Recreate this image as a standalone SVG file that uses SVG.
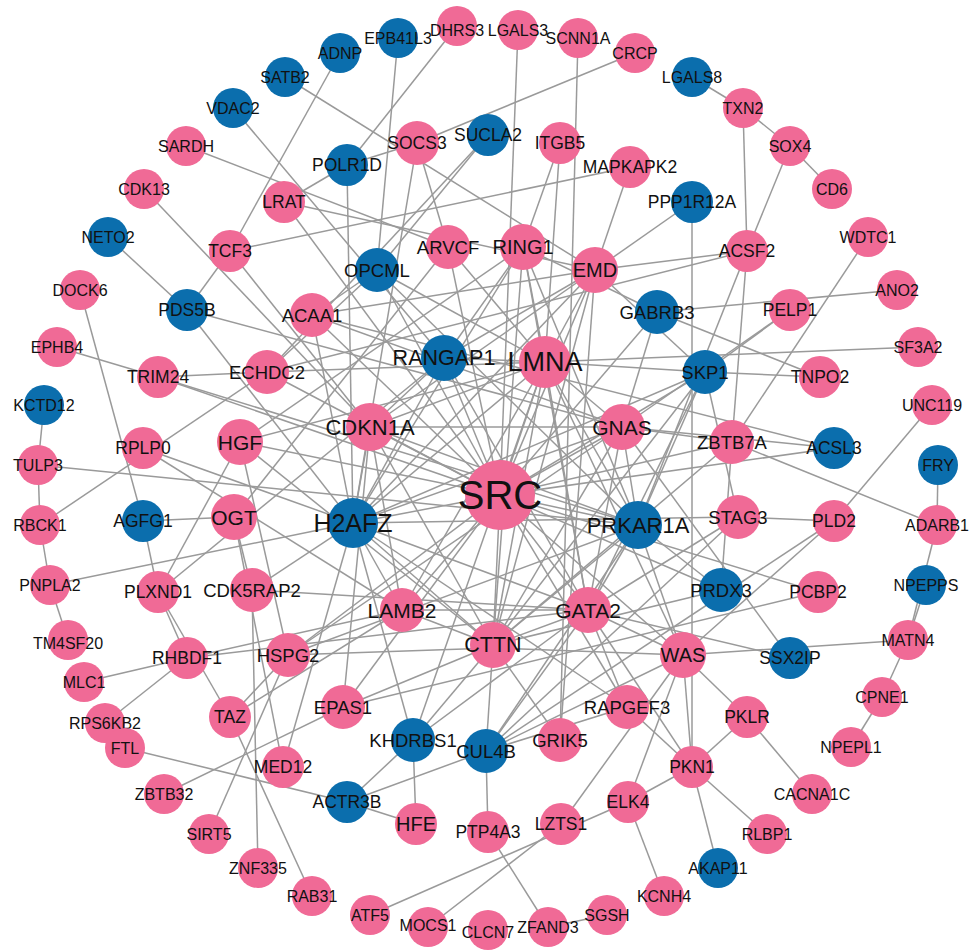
<svg xmlns="http://www.w3.org/2000/svg" width="971" height="950" viewBox="0 0 971 950">
<style>
.e line{stroke:#9a9a9a;stroke-width:1.5}
.p{fill:#F06A96}
.b{fill:#0B6EAD}
text{font-family:"Liberation Sans",Arial,sans-serif;fill:#111;text-anchor:middle;dominant-baseline:central}
.o{font-size:16px}
.m{font-size:17.5px}
.i{font-size:18.5px}
</style>
<rect width="971" height="950" fill="#fff"/>
<g id="connectors" class="e">
<line x1="285" y1="77" x2="595" y2="270"/>
<line x1="340" y1="53" x2="230" y2="251"/>
<line x1="398" y1="38" x2="377" y2="270"/>
<line x1="457" y1="26" x2="347" y2="165"/>
<line x1="518" y1="30" x2="500" y2="495"/>
<line x1="578" y1="38" x2="560" y2="740"/>
<line x1="635" y1="53" x2="417" y2="143"/>
<line x1="692" y1="77" x2="743" y2="108"/>
<line x1="743" y1="108" x2="790" y2="146"/>
<line x1="790" y1="146" x2="832" y2="189"/>
<line x1="743" y1="108" x2="747" y2="251"/>
<line x1="790" y1="146" x2="747" y2="251"/>
<line x1="868" y1="237" x2="732" y2="442"/>
<line x1="897" y1="290" x2="657" y2="312"/>
<line x1="918" y1="347" x2="545" y2="362"/>
<line x1="932" y1="405" x2="834" y2="521"/>
<line x1="938" y1="465" x2="937" y2="525"/>
<line x1="937" y1="525" x2="732" y2="442"/>
<line x1="937" y1="525" x2="908" y2="640"/>
<line x1="926" y1="585" x2="908" y2="640"/>
<line x1="908" y1="640" x2="683" y2="655"/>
<line x1="882" y1="697" x2="908" y2="640"/>
<line x1="851" y1="747" x2="882" y2="697"/>
<line x1="812" y1="794" x2="747" y2="717"/>
<line x1="767" y1="834" x2="692" y2="767"/>
<line x1="718" y1="868" x2="692" y2="767"/>
<line x1="664" y1="896" x2="628" y2="802"/>
<line x1="607" y1="915" x2="548" y2="927"/>
<line x1="548" y1="927" x2="488" y2="832"/>
<line x1="428" y1="927" x2="561" y2="824"/>
<line x1="370" y1="915" x2="628" y2="802"/>
<line x1="312" y1="896" x2="230" y2="717"/>
<line x1="258" y1="868" x2="252" y2="590"/>
<line x1="209" y1="834" x2="288" y2="655"/>
<line x1="164" y1="794" x2="343" y2="707"/>
<line x1="125" y1="748" x2="347" y2="802"/>
<line x1="105" y1="723" x2="187" y2="658"/>
<line x1="84" y1="682" x2="187" y2="658"/>
<line x1="68" y1="640" x2="50" y2="585"/>
<line x1="50" y1="585" x2="40" y2="525"/>
<line x1="40" y1="525" x2="38" y2="465"/>
<line x1="38" y1="465" x2="44" y2="405"/>
<line x1="50" y1="585" x2="353" y2="523"/>
<line x1="40" y1="525" x2="267" y2="372"/>
<line x1="38" y1="465" x2="638" y2="525"/>
<line x1="57" y1="347" x2="158" y2="377"/>
<line x1="80" y1="290" x2="143" y2="521"/>
<line x1="108" y1="237" x2="187" y2="310"/>
<line x1="144" y1="189" x2="370" y2="427"/>
<line x1="186" y1="146" x2="448" y2="247"/>
<line x1="233" y1="108" x2="444" y2="358"/>
<line x1="347" y1="165" x2="417" y2="143"/>
<line x1="347" y1="165" x2="284" y2="202"/>
<line x1="347" y1="165" x2="353" y2="523"/>
<line x1="417" y1="143" x2="448" y2="247"/>
<line x1="417" y1="143" x2="353" y2="523"/>
<line x1="488" y1="135" x2="377" y2="270"/>
<line x1="488" y1="135" x2="267" y2="372"/>
<line x1="560" y1="143" x2="523" y2="247"/>
<line x1="560" y1="143" x2="545" y2="362"/>
<line x1="630" y1="167" x2="230" y2="251"/>
<line x1="630" y1="167" x2="595" y2="270"/>
<line x1="692" y1="202" x2="595" y2="270"/>
<line x1="692" y1="202" x2="692" y2="767"/>
<line x1="747" y1="251" x2="595" y2="270"/>
<line x1="747" y1="251" x2="267" y2="372"/>
<line x1="747" y1="251" x2="732" y2="442"/>
<line x1="747" y1="251" x2="638" y2="525"/>
<line x1="790" y1="310" x2="705" y2="372"/>
<line x1="790" y1="310" x2="622" y2="427"/>
<line x1="820" y1="377" x2="705" y2="372"/>
<line x1="820" y1="377" x2="657" y2="312"/>
<line x1="834" y1="448" x2="500" y2="495"/>
<line x1="834" y1="448" x2="312" y2="315"/>
<line x1="834" y1="448" x2="622" y2="427"/>
<line x1="834" y1="521" x2="738" y2="517"/>
<line x1="834" y1="521" x2="683" y2="655"/>
<line x1="834" y1="521" x2="486" y2="751"/>
<line x1="818" y1="592" x2="500" y2="495"/>
<line x1="818" y1="592" x2="343" y2="707"/>
<line x1="790" y1="658" x2="622" y2="427"/>
<line x1="790" y1="658" x2="588" y2="610"/>
<line x1="747" y1="717" x2="683" y2="655"/>
<line x1="747" y1="717" x2="692" y2="767"/>
<line x1="692" y1="767" x2="628" y2="802"/>
<line x1="692" y1="767" x2="683" y2="655"/>
<line x1="692" y1="767" x2="627" y2="707"/>
<line x1="692" y1="767" x2="588" y2="610"/>
<line x1="628" y1="802" x2="683" y2="655"/>
<line x1="561" y1="824" x2="683" y2="655"/>
<line x1="488" y1="832" x2="486" y2="751"/>
<line x1="416" y1="824" x2="347" y2="802"/>
<line x1="416" y1="824" x2="413" y2="740"/>
<line x1="347" y1="802" x2="413" y2="740"/>
<line x1="347" y1="802" x2="486" y2="751"/>
<line x1="283" y1="767" x2="353" y2="523"/>
<line x1="283" y1="767" x2="234" y2="517"/>
<line x1="230" y1="717" x2="288" y2="655"/>
<line x1="230" y1="717" x2="158" y2="592"/>
<line x1="230" y1="717" x2="402" y2="610"/>
<line x1="187" y1="658" x2="402" y2="610"/>
<line x1="187" y1="658" x2="588" y2="610"/>
<line x1="187" y1="658" x2="158" y2="592"/>
<line x1="158" y1="592" x2="240" y2="442"/>
<line x1="158" y1="592" x2="444" y2="358"/>
<line x1="158" y1="592" x2="143" y2="521"/>
<line x1="143" y1="521" x2="234" y2="517"/>
<line x1="143" y1="448" x2="353" y2="523"/>
<line x1="143" y1="448" x2="402" y2="610"/>
<line x1="158" y1="377" x2="267" y2="372"/>
<line x1="158" y1="377" x2="500" y2="495"/>
<line x1="158" y1="377" x2="638" y2="525"/>
<line x1="187" y1="310" x2="230" y2="251"/>
<line x1="187" y1="310" x2="622" y2="427"/>
<line x1="187" y1="310" x2="353" y2="523"/>
<line x1="230" y1="251" x2="370" y2="427"/>
<line x1="284" y1="202" x2="500" y2="495"/>
<line x1="284" y1="202" x2="595" y2="270"/>
<line x1="377" y1="270" x2="267" y2="372"/>
<line x1="377" y1="270" x2="312" y2="315"/>
<line x1="377" y1="270" x2="500" y2="495"/>
<line x1="377" y1="270" x2="545" y2="362"/>
<line x1="377" y1="270" x2="638" y2="525"/>
<line x1="448" y1="247" x2="500" y2="495"/>
<line x1="448" y1="247" x2="234" y2="517"/>
<line x1="448" y1="247" x2="545" y2="362"/>
<line x1="523" y1="247" x2="657" y2="312"/>
<line x1="523" y1="247" x2="545" y2="362"/>
<line x1="523" y1="247" x2="493" y2="645"/>
<line x1="523" y1="247" x2="353" y2="523"/>
<line x1="523" y1="247" x2="444" y2="358"/>
<line x1="523" y1="247" x2="240" y2="442"/>
<line x1="523" y1="247" x2="588" y2="610"/>
<line x1="523" y1="247" x2="638" y2="525"/>
<line x1="595" y1="270" x2="545" y2="362"/>
<line x1="595" y1="270" x2="500" y2="495"/>
<line x1="595" y1="270" x2="312" y2="315"/>
<line x1="595" y1="270" x2="370" y2="427"/>
<line x1="595" y1="270" x2="353" y2="523"/>
<line x1="595" y1="270" x2="493" y2="645"/>
<line x1="595" y1="270" x2="444" y2="358"/>
<line x1="595" y1="270" x2="705" y2="372"/>
<line x1="595" y1="270" x2="560" y2="740"/>
<line x1="657" y1="312" x2="622" y2="427"/>
<line x1="657" y1="312" x2="500" y2="495"/>
<line x1="705" y1="372" x2="545" y2="362"/>
<line x1="705" y1="372" x2="500" y2="495"/>
<line x1="705" y1="372" x2="638" y2="525"/>
<line x1="705" y1="372" x2="493" y2="645"/>
<line x1="705" y1="372" x2="588" y2="610"/>
<line x1="705" y1="372" x2="353" y2="523"/>
<line x1="732" y1="442" x2="721" y2="590"/>
<line x1="732" y1="442" x2="622" y2="427"/>
<line x1="732" y1="442" x2="500" y2="495"/>
<line x1="732" y1="442" x2="493" y2="645"/>
<line x1="738" y1="517" x2="353" y2="523"/>
<line x1="738" y1="517" x2="588" y2="610"/>
<line x1="738" y1="517" x2="705" y2="372"/>
<line x1="738" y1="517" x2="486" y2="751"/>
<line x1="721" y1="590" x2="638" y2="525"/>
<line x1="721" y1="590" x2="500" y2="495"/>
<line x1="721" y1="590" x2="493" y2="645"/>
<line x1="683" y1="655" x2="493" y2="648"/>
<line x1="683" y1="655" x2="588" y2="610"/>
<line x1="683" y1="655" x2="638" y2="525"/>
<line x1="683" y1="655" x2="500" y2="495"/>
<line x1="683" y1="655" x2="486" y2="751"/>
<line x1="683" y1="655" x2="545" y2="362"/>
<line x1="627" y1="707" x2="588" y2="610"/>
<line x1="627" y1="707" x2="500" y2="495"/>
<line x1="627" y1="707" x2="353" y2="523"/>
<line x1="560" y1="740" x2="493" y2="645"/>
<line x1="486" y1="751" x2="493" y2="645"/>
<line x1="486" y1="751" x2="588" y2="610"/>
<line x1="486" y1="751" x2="627" y2="707"/>
<line x1="486" y1="751" x2="638" y2="525"/>
<line x1="413" y1="740" x2="493" y2="645"/>
<line x1="413" y1="740" x2="588" y2="610"/>
<line x1="413" y1="740" x2="353" y2="523"/>
<line x1="413" y1="740" x2="545" y2="362"/>
<line x1="343" y1="707" x2="500" y2="495"/>
<line x1="343" y1="707" x2="493" y2="645"/>
<line x1="343" y1="707" x2="370" y2="427"/>
<line x1="288" y1="655" x2="493" y2="648"/>
<line x1="288" y1="655" x2="500" y2="495"/>
<line x1="288" y1="655" x2="638" y2="525"/>
<line x1="288" y1="655" x2="622" y2="427"/>
<line x1="288" y1="655" x2="240" y2="442"/>
<line x1="252" y1="590" x2="353" y2="523"/>
<line x1="252" y1="590" x2="588" y2="610"/>
<line x1="252" y1="590" x2="234" y2="517"/>
<line x1="240" y1="442" x2="500" y2="495"/>
<line x1="240" y1="442" x2="545" y2="362"/>
<line x1="240" y1="442" x2="493" y2="645"/>
<line x1="267" y1="372" x2="545" y2="362"/>
<line x1="267" y1="372" x2="500" y2="495"/>
<line x1="312" y1="315" x2="500" y2="495"/>
<line x1="312" y1="315" x2="353" y2="523"/>
<line x1="312" y1="315" x2="622" y2="427"/>
<line x1="444" y1="358" x2="545" y2="362"/>
<line x1="444" y1="358" x2="500" y2="495"/>
<line x1="444" y1="358" x2="370" y2="427"/>
<line x1="444" y1="358" x2="353" y2="523"/>
<line x1="444" y1="358" x2="588" y2="610"/>
<line x1="545" y1="362" x2="500" y2="495"/>
<line x1="545" y1="362" x2="370" y2="427"/>
<line x1="545" y1="362" x2="353" y2="523"/>
<line x1="545" y1="362" x2="622" y2="427"/>
<line x1="545" y1="362" x2="638" y2="525"/>
<line x1="545" y1="362" x2="493" y2="645"/>
<line x1="545" y1="362" x2="588" y2="610"/>
<line x1="545" y1="362" x2="402" y2="610"/>
<line x1="370" y1="427" x2="500" y2="495"/>
<line x1="370" y1="427" x2="353" y2="523"/>
<line x1="370" y1="427" x2="402" y2="610"/>
<line x1="370" y1="427" x2="622" y2="427"/>
<line x1="370" y1="427" x2="638" y2="525"/>
<line x1="370" y1="427" x2="493" y2="645"/>
<line x1="622" y1="427" x2="500" y2="495"/>
<line x1="622" y1="427" x2="638" y2="525"/>
<line x1="622" y1="427" x2="353" y2="523"/>
<line x1="622" y1="427" x2="493" y2="645"/>
<line x1="622" y1="427" x2="588" y2="610"/>
<line x1="500" y1="495" x2="353" y2="523"/>
<line x1="500" y1="495" x2="638" y2="525"/>
<line x1="500" y1="495" x2="402" y2="610"/>
<line x1="500" y1="495" x2="588" y2="610"/>
<line x1="500" y1="495" x2="493" y2="645"/>
<line x1="353" y1="523" x2="402" y2="610"/>
<line x1="353" y1="523" x2="493" y2="645"/>
<line x1="353" y1="523" x2="588" y2="610"/>
<line x1="638" y1="525" x2="588" y2="610"/>
<line x1="638" y1="525" x2="493" y2="645"/>
<line x1="402" y1="610" x2="493" y2="645"/>
<line x1="402" y1="610" x2="588" y2="610"/>
<line x1="588" y1="610" x2="493" y2="645"/>
</g>
<g id="n-SATB2"><circle class="b" cx="285" cy="77" r="20"/><text class="o" x="285" y="77">SATB2</text></g>
<g id="n-ADNP"><circle class="b" cx="340" cy="53" r="20"/><text class="o" x="340" y="53">ADNP</text></g>
<g id="n-EPB41L3"><circle class="b" cx="398" cy="38" r="20"/><text class="o" x="398" y="38">EPB41L3</text></g>
<g id="n-DHRS3"><circle class="p" cx="457" cy="26" r="20"/><text class="o" x="457" y="30">DHRS3</text></g>
<g id="n-LGALS3"><circle class="p" cx="518" cy="30" r="20"/><text class="o" x="518" y="30">LGALS3</text></g>
<g id="n-SCNN1A"><circle class="p" cx="578" cy="38" r="20"/><text class="o" x="578" y="38">SCNN1A</text></g>
<g id="n-CRCP"><circle class="p" cx="635" cy="53" r="20"/><text class="o" x="635" y="53">CRCP</text></g>
<g id="n-LGALS8"><circle class="b" cx="692" cy="77" r="20"/><text class="o" x="692" y="77">LGALS8</text></g>
<g id="n-TXN2"><circle class="p" cx="743" cy="108" r="20"/><text class="o" x="743" y="108">TXN2</text></g>
<g id="n-SOX4"><circle class="p" cx="790" cy="146" r="20"/><text class="o" x="790" y="146">SOX4</text></g>
<g id="n-CD6"><circle class="p" cx="832" cy="189" r="20"/><text class="o" x="832" y="189">CD6</text></g>
<g id="n-WDTC1"><circle class="p" cx="868" cy="237" r="20"/><text class="o" x="868" y="237">WDTC1</text></g>
<g id="n-ANO2"><circle class="p" cx="897" cy="290" r="20"/><text class="o" x="897" y="290">ANO2</text></g>
<g id="n-SF3A2"><circle class="p" cx="918" cy="347" r="20"/><text class="o" x="918" y="347">SF3A2</text></g>
<g id="n-UNC119"><circle class="p" cx="932" cy="405" r="20"/><text class="o" x="932" y="405">UNC119</text></g>
<g id="n-FRY"><circle class="b" cx="938" cy="465" r="20"/><text class="o" x="938" y="465">FRY</text></g>
<g id="n-ADARB1"><circle class="p" cx="937" cy="525" r="20"/><text class="o" x="937" y="525">ADARB1</text></g>
<g id="n-NPEPPS"><circle class="b" cx="926" cy="585" r="20"/><text class="o" x="926" y="585">NPEPPS</text></g>
<g id="n-MATN4"><circle class="p" cx="908" cy="640" r="20"/><text class="o" x="908" y="640">MATN4</text></g>
<g id="n-CPNE1"><circle class="p" cx="882" cy="697" r="20"/><text class="o" x="882" y="697">CPNE1</text></g>
<g id="n-NPEPL1"><circle class="p" cx="851" cy="747" r="20"/><text class="o" x="851" y="747">NPEPL1</text></g>
<g id="n-CACNA1C"><circle class="p" cx="812" cy="794" r="20"/><text class="o" x="812" y="794">CACNA1C</text></g>
<g id="n-RLBP1"><circle class="p" cx="767" cy="834" r="20"/><text class="o" x="767" y="834">RLBP1</text></g>
<g id="n-AKAP11"><circle class="b" cx="718" cy="868" r="20"/><text class="o" x="718" y="868">AKAP11</text></g>
<g id="n-KCNH4"><circle class="p" cx="664" cy="896" r="20"/><text class="o" x="664" y="896">KCNH4</text></g>
<g id="n-SGSH"><circle class="p" cx="607" cy="915" r="20"/><text class="o" x="607" y="915">SGSH</text></g>
<g id="n-ZFAND3"><circle class="p" cx="548" cy="927" r="20"/><text class="o" x="548" y="927">ZFAND3</text></g>
<g id="n-CLCN7"><circle class="p" cx="488" cy="930" r="20"/><text class="o" x="488" y="932">CLCN7</text></g>
<g id="n-MOCS1"><circle class="p" cx="428" cy="927" r="20"/><text class="o" x="428" y="925">MOCS1</text></g>
<g id="n-ATF5"><circle class="p" cx="370" cy="915" r="20"/><text class="o" x="370" y="915">ATF5</text></g>
<g id="n-RAB31"><circle class="p" cx="312" cy="896" r="20"/><text class="o" x="312" y="896">RAB31</text></g>
<g id="n-ZNF335"><circle class="p" cx="258" cy="868" r="20"/><text class="o" x="258" y="868">ZNF335</text></g>
<g id="n-SIRT5"><circle class="p" cx="209" cy="834" r="20"/><text class="o" x="209" y="834">SIRT5</text></g>
<g id="n-ZBTB32"><circle class="p" cx="164" cy="794" r="20"/><text class="o" x="164" y="794">ZBTB32</text></g>
<g id="n-RPS6KB2"><circle class="p" cx="105" cy="723" r="20"/><text class="o" x="105" y="723">RPS6KB2</text></g>
<g id="n-FTL"><circle class="p" cx="125" cy="748" r="20"/><text class="o" x="125" y="748">FTL</text></g>
<g id="n-MLC1"><circle class="p" cx="84" cy="682" r="20"/><text class="o" x="84" y="682">MLC1</text></g>
<g id="n-TM4SF20"><circle class="p" cx="68" cy="640" r="20"/><text class="o" x="68" y="643">TM4SF20</text></g>
<g id="n-PNPLA2"><circle class="p" cx="50" cy="585" r="20"/><text class="o" x="50" y="585">PNPLA2</text></g>
<g id="n-RBCK1"><circle class="p" cx="40" cy="525" r="20"/><text class="o" x="40" y="525">RBCK1</text></g>
<g id="n-TULP3"><circle class="p" cx="38" cy="465" r="20"/><text class="o" x="38" y="465">TULP3</text></g>
<g id="n-KCTD12"><circle class="b" cx="44" cy="405" r="20"/><text class="o" x="44" y="405">KCTD12</text></g>
<g id="n-EPHB4"><circle class="p" cx="57" cy="347" r="20"/><text class="o" x="57" y="347">EPHB4</text></g>
<g id="n-DOCK6"><circle class="p" cx="80" cy="290" r="20"/><text class="o" x="80" y="290">DOCK6</text></g>
<g id="n-NETO2"><circle class="b" cx="108" cy="237" r="20"/><text class="o" x="108" y="237">NETO2</text></g>
<g id="n-CDK13"><circle class="p" cx="144" cy="189" r="20"/><text class="o" x="144" y="189">CDK13</text></g>
<g id="n-SARDH"><circle class="p" cx="186" cy="146" r="20"/><text class="o" x="186" y="146">SARDH</text></g>
<g id="n-VDAC2"><circle class="b" cx="233" cy="108" r="20"/><text class="o" x="233" y="108">VDAC2</text></g>
<g id="n-POLR1D"><circle class="b" cx="347" cy="165" r="21"/><text class="m" x="347" y="165">POLR1D</text></g>
<g id="n-SOCS3"><circle class="p" cx="417" cy="143" r="22"/><text class="m" x="417" y="143">SOCS3</text></g>
<g id="n-SUCLA2"><circle class="b" cx="488" cy="135" r="21"/><text class="m" x="488" y="135">SUCLA2</text></g>
<g id="n-ITGB5"><circle class="p" cx="560" cy="143" r="21"/><text class="m" x="560" y="143">ITGB5</text></g>
<g id="n-MAPKAPK2"><circle class="p" cx="630" cy="167" r="21"/><text class="m" x="630" y="167">MAPKAPK2</text></g>
<g id="n-PPP1R12A"><circle class="b" cx="692" cy="202" r="21"/><text class="m" x="692" y="202">PPP1R12A</text></g>
<g id="n-ACSF2"><circle class="p" cx="747" cy="251" r="21"/><text class="m" x="747" y="251">ACSF2</text></g>
<g id="n-PELP1"><circle class="p" cx="790" cy="310" r="21"/><text class="m" x="790" y="310">PELP1</text></g>
<g id="n-TNPO2"><circle class="p" cx="820" cy="377" r="21"/><text class="m" x="820" y="377">TNPO2</text></g>
<g id="n-ACSL3"><circle class="b" cx="834" cy="448" r="21"/><text class="m" x="834" y="448">ACSL3</text></g>
<g id="n-PLD2"><circle class="p" cx="834" cy="521" r="21"/><text class="m" x="834" y="521">PLD2</text></g>
<g id="n-PCBP2"><circle class="p" cx="818" cy="592" r="21"/><text class="m" x="818" y="592">PCBP2</text></g>
<g id="n-SSX2IP"><circle class="b" cx="790" cy="658" r="21"/><text class="m" x="790" y="658">SSX2IP</text></g>
<g id="n-PKLR"><circle class="p" cx="747" cy="717" r="21"/><text class="m" x="747" y="717">PKLR</text></g>
<g id="n-PKN1"><circle class="p" cx="692" cy="767" r="21"/><text class="m" x="692" y="767">PKN1</text></g>
<g id="n-ELK4"><circle class="p" cx="628" cy="802" r="21"/><text class="m" x="628" y="802">ELK4</text></g>
<g id="n-LZTS1"><circle class="p" cx="561" cy="824" r="21"/><text class="m" x="561" y="824">LZTS1</text></g>
<g id="n-PTP4A3"><circle class="p" cx="488" cy="832" r="21"/><text class="m" x="488" y="832">PTP4A3</text></g>
<g id="n-HFE"><circle class="p" cx="416" cy="824" r="21"/><text x="416" y="824" style="font-size:20px">HFE</text></g>
<g id="n-ACTR3B"><circle class="b" cx="347" cy="802" r="21"/><text class="m" x="347" y="802">ACTR3B</text></g>
<g id="n-MED12"><circle class="p" cx="283" cy="767" r="21"/><text class="m" x="283" y="767">MED12</text></g>
<g id="n-TAZ"><circle class="p" cx="230" cy="717" r="21"/><text class="m" x="230" y="717">TAZ</text></g>
<g id="n-RHBDF1"><circle class="p" cx="187" cy="658" r="21"/><text class="m" x="187" y="658">RHBDF1</text></g>
<g id="n-PLXND1"><circle class="p" cx="158" cy="592" r="21"/><text class="m" x="158" y="592">PLXND1</text></g>
<g id="n-AGFG1"><circle class="b" cx="143" cy="521" r="21"/><text class="m" x="143" y="521">AGFG1</text></g>
<g id="n-RPLP0"><circle class="p" cx="143" cy="448" r="21"/><text class="m" x="143" y="448">RPLP0</text></g>
<g id="n-TRIM24"><circle class="p" cx="158" cy="377" r="21"/><text class="m" x="158" y="377">TRIM24</text></g>
<g id="n-PDS5B"><circle class="b" cx="187" cy="310" r="21"/><text class="m" x="187" y="310">PDS5B</text></g>
<g id="n-TCF3"><circle class="p" cx="230" cy="251" r="21"/><text class="m" x="230" y="251">TCF3</text></g>
<g id="n-LRAT"><circle class="p" cx="284" cy="202" r="21"/><text class="m" x="284" y="202">LRAT</text></g>
<g id="n-OPCML"><circle class="b" cx="377" cy="270" r="22"/><text class="i" x="377" y="270">OPCML</text></g>
<g id="n-ARVCF"><circle class="p" cx="448" cy="247" r="22"/><text class="i" x="448" y="247">ARVCF</text></g>
<g id="n-RING1"><circle class="p" cx="523" cy="247" r="23"/><text x="523" y="247" style="font-size:20px">RING1</text></g>
<g id="n-EMD"><circle class="p" cx="595" cy="270" r="23"/><text x="595" y="270" style="font-size:20px">EMD</text></g>
<g id="n-GABRB3"><circle class="b" cx="657" cy="312" r="22"/><text class="i" x="657" y="312">GABRB3</text></g>
<g id="n-SKP1"><circle class="b" cx="705" cy="372" r="22"/><text class="i" x="705" y="372">SKP1</text></g>
<g id="n-ZBTB7A"><circle class="p" cx="732" cy="442" r="22"/><text class="i" x="732" y="442">ZBTB7A</text></g>
<g id="n-STAG3"><circle class="p" cx="738" cy="517" r="22"/><text class="i" x="738" y="517">STAG3</text></g>
<g id="n-PRDX3"><circle class="b" cx="721" cy="590" r="22"/><text class="i" x="721" y="590">PRDX3</text></g>
<g id="n-WAS"><circle class="p" cx="683" cy="655" r="23"/><text x="683" y="655" style="font-size:20px">WAS</text></g>
<g id="n-RAPGEF3"><circle class="p" cx="627" cy="707" r="22"/><text class="i" x="627" y="707">RAPGEF3</text></g>
<g id="n-GRIK5"><circle class="p" cx="560" cy="740" r="22"/><text class="i" x="560" y="740">GRIK5</text></g>
<g id="n-CUL4B"><circle class="b" cx="486" cy="751" r="22"/><text class="i" x="486" y="751">CUL4B</text></g>
<g id="n-KHDRBS1"><circle class="b" cx="413" cy="740" r="22"/><text class="i" x="413" y="740">KHDRBS1</text></g>
<g id="n-EPAS1"><circle class="p" cx="343" cy="707" r="22"/><text class="i" x="343" y="707">EPAS1</text></g>
<g id="n-HSPG2"><circle class="p" cx="288" cy="655" r="22"/><text class="i" x="288" y="655">HSPG2</text></g>
<g id="n-CDK5RAP2"><circle class="p" cx="252" cy="590" r="22"/><text class="i" x="252" y="590">CDK5RAP2</text></g>
<g id="n-OGT"><circle class="p" cx="234" cy="517" r="23"/><text x="234" y="517" style="font-size:21px">OGT</text></g>
<g id="n-HGF"><circle class="p" cx="240" cy="442" r="23"/><text x="240" y="442" style="font-size:21px">HGF</text></g>
<g id="n-ECHDC2"><circle class="p" cx="267" cy="372" r="22"/><text class="i" x="267" y="372">ECHDC2</text></g>
<g id="n-ACAA1"><circle class="p" cx="312" cy="315" r="22"/><text class="i" x="312" y="315">ACAA1</text></g>
<g id="n-RANGAP1"><circle class="b" cx="444" cy="358" r="23"/><text x="444" y="358" style="font-size:21.5px">RANGAP1</text></g>
<g id="n-LMNA"><circle class="p" cx="545" cy="362" r="26"/><text x="545" y="362" style="font-size:27px">LMNA</text></g>
<g id="n-CDKN1A"><circle class="p" cx="370" cy="427" r="24"/><text x="370" y="427" style="font-size:22px">CDKN1A</text></g>
<g id="n-GNAS"><circle class="p" cx="622" cy="427" r="23"/><text x="622" y="427" style="font-size:21px">GNAS</text></g>
<g id="n-PRKAR1A"><circle class="b" cx="638" cy="525" r="24"/><text x="638" y="525" style="font-size:22px">PRKAR1A</text></g>
<g id="n-H2AFZ"><circle class="b" cx="353" cy="523" r="25"/><text x="353" y="523" style="font-size:25px">H2AFZ</text></g>
<g id="n-LAMB2"><circle class="p" cx="402" cy="610" r="22"/><text x="402" y="610" style="font-size:21px">LAMB2</text></g>
<g id="n-GATA2"><circle class="p" cx="588" cy="610" r="23"/><text x="588" y="610" style="font-size:21px">GATA2</text></g>
<g id="n-CTTN"><circle class="p" cx="493" cy="645" r="23"/><text x="493" y="645" style="font-size:21.5px">CTTN</text></g>
<g id="n-SRC"><circle class="p" cx="500" cy="495" r="35"/><text x="500" y="495" style="font-size:40px">SRC</text></g>
</svg>
